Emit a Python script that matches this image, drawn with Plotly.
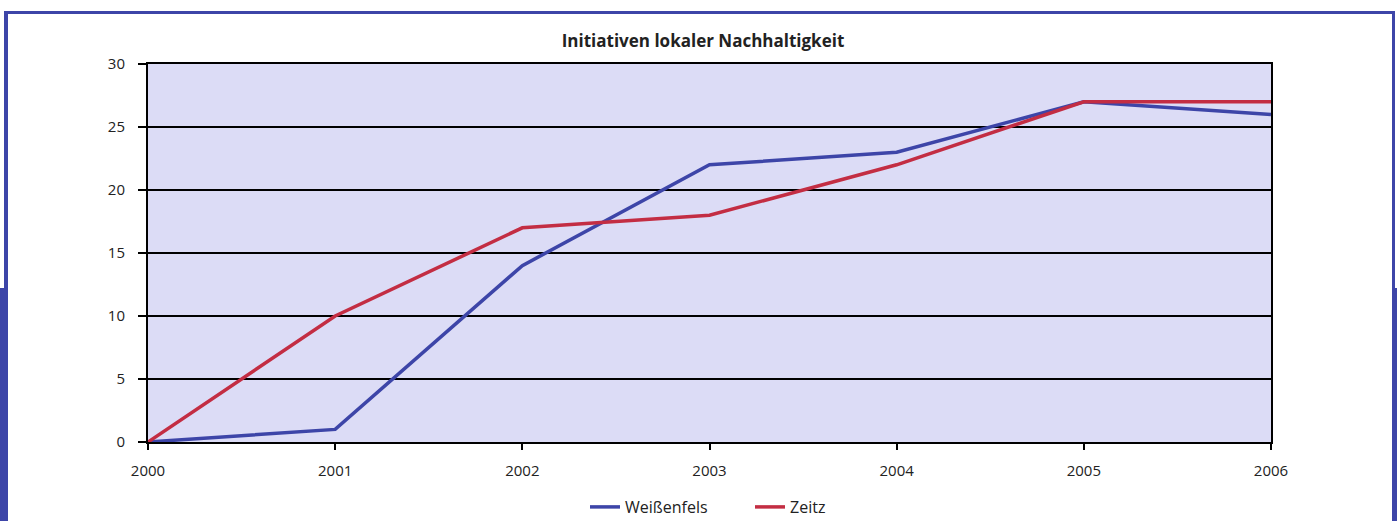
import plotly.graph_objects as go

years = [2000, 2001, 2002, 2003, 2004, 2005, 2006]
weissenfels = [0, 1, 14, 22, 23, 27, 26]
zeitz = [0, 10, 17, 18, 22, 27, 27]

BLUE = "#3d45a8"
RED = "#c32d43"
FONT = "Open Sans"

W, H = 1397, 521
L, R, T, B = 148, 1271, 64, 442


def px(x):
    return (x - L) / (R - L)


def py(y):
    return (B - y) / (B - T)


pad = "\u00a0" * 9  # extra room between legend entries

fig = go.Figure()
fig.add_trace(go.Scatter(x=years, y=weissenfels, name="Weißenfels" + pad, mode="lines",
                         line=dict(color=BLUE, width=3.5)))
fig.add_trace(go.Scatter(x=years, y=zeitz, name="Zeitz", mode="lines",
                         line=dict(color=RED, width=3.5)))

# blue page frame around the chart
frame = [
    (4, 11, 1395, 14),
    (4, 11, 8, H),
    (0, 288, 8, H),
    (1392, 11, 1395, H),
    (1392, 288, W, H),
]
shapes = [dict(type="rect", xref="paper", yref="paper",
               x0=px(a), x1=px(c), y0=py(d), y1=py(b),
               fillcolor=BLUE, line=dict(width=0), layer="above")
          for a, b, c, d in frame]

fig.update_layout(
    width=W, height=H,
    margin=dict(l=L, r=W - R, t=T, b=H - B, autoexpand=False),
    paper_bgcolor="white",
    plot_bgcolor="#dcdcf6",
    font=dict(family=FONT, size=15, color="#222"),
    title=dict(text="<b>Initiativen lokaler Nachhaltigkeit</b>", x=703 / W, xanchor="center",
               y=1 - 41 / H, yanchor="middle", font=dict(size=17, color="#222")),
    showlegend=True,
    legend=dict(orientation="h", x=px(708), xanchor="center", y=py(507), yanchor="middle",
                font=dict(size=16), traceorder="normal", itemwidth=30),
    shapes=shapes,
    xaxis=dict(range=[2000, 2006], tickvals=years, showgrid=False, zeroline=False,
               ticks="outside", ticklen=6, tickwidth=2, tickcolor="black",
               showline=True, linecolor="black", linewidth=2, mirror=True,
               tickfont=dict(size=15), ticklabelstandoff=8),
    yaxis=dict(range=[0, 30], dtick=5, showgrid=True, gridcolor="black", gridwidth=2,
               zeroline=False, ticks="outside", ticklen=8, tickwidth=2, tickcolor="black",
               showline=True, linecolor="black", linewidth=2, mirror=True,
               tickfont=dict(size=15), ticklabelstandoff=10),
)

fig.write_html("out.html", config=dict(displayModeBar=False),
               post_script="document.body.style.margin='0';document.body.style.overflow='hidden';")
